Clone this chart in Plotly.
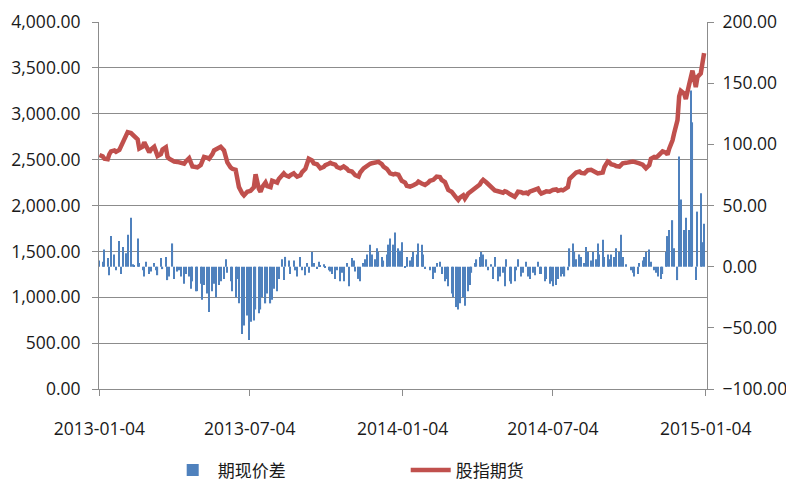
import pandas as pd
import plotly.graph_objects as go

# Sample dates: every second business day from 2013-01-04 to 2015-01-05
dates = pd.bdate_range("2013-01-04", "2015-01-05", freq="2B")

# 股指期货 (left axis)
futures = [
    2550, 2535, 2510, 2505, 2560, 2590, 2600, 2585, 2605, 2640,
    2700, 2760, 2800, 2790, 2770, 2760, 2720, 2620, 2640, 2690,
    2660, 2580, 2610, 2640, 2590, 2540, 2560, 2610, 2635, 2530,
    2510, 2490, 2480, 2475, 2470, 2465, 2455, 2480, 2515, 2470,
    2425, 2420, 2415, 2440, 2490, 2530, 2520, 2510, 2560, 2600,
    2610, 2625, 2640, 2600, 2540, 2470, 2415, 2400, 2390, 2310,
    2200, 2130, 2110, 2150, 2160, 2160, 2200, 2340, 2180, 2150,
    2200, 2250, 2210, 2200, 2270, 2260, 2250, 2290, 2330, 2350,
    2330, 2315, 2330, 2350, 2330, 2315, 2330, 2365, 2400, 2470,
    2510, 2490, 2460, 2450, 2430, 2405, 2420, 2440, 2455, 2465,
    2455, 2445, 2420, 2405, 2415, 2425, 2400, 2380, 2370, 2350,
    2330, 2315, 2360, 2405, 2420, 2440, 2455, 2460, 2470, 2480,
    2475, 2450, 2425, 2400, 2370, 2350, 2340, 2345, 2335, 2300,
    2270, 2250, 2215, 2205, 2210, 2220, 2240, 2260, 2240, 2230,
    2225, 2250, 2270, 2280, 2300, 2315, 2310, 2280, 2255, 2220,
    2170, 2150, 2120, 2080, 2060, 2085, 2110, 2075, 2130, 2145,
    2150, 2175, 2205, 2230, 2260, 2280, 2250, 2230, 2205, 2180,
    2165, 2155, 2150, 2140, 2155, 2150, 2125, 2110, 2095, 2120,
    2150, 2145, 2135, 2140, 2130, 2150, 2160, 2175, 2185, 2150,
    2130, 2145, 2155, 2150, 2160, 2170, 2175, 2160, 2170, 2165,
    2175, 2200, 2290, 2330, 2345, 2360, 2370, 2355, 2350, 2375,
    2385, 2390, 2375, 2360, 2350, 2355, 2360, 2420, 2480, 2470,
    2450, 2440, 2430, 2425, 2445, 2460, 2465, 2470, 2475, 2480,
    2475, 2470, 2460, 2445, 2425, 2405, 2440, 2510, 2530, 2525,
    2535, 2570, 2590, 2575, 2555, 2620, 2710, 2790, 2930, 3190,
    3250, 3220, 3160, 3320, 3420, 3470, 3290, 3400, 3440, 3560,
    3660,
]

# 期现价差 (right axis)
basis = [
    5, 4, 14, 7, -7, 25, 10, -3, 21, -6,
    16, 11, 26, 40, 2, 1, 23, 3, -3, -8,
    4, -6, -4, 3, -3, -7, 7, -2, 8, -11,
    -8, 19, -10, -4, -3, -8, -14, -6, -8, -18,
    -12, -20, -20, -14, -27, -15, -22, -37, -20, -14,
    -25, -15, -12, -10, 6, -5, -12, -20, -25, -10,
    -30, -55, -48, -40, -60, -45, -44, -35, -38, -35,
    -25, -30, -22, -30, -27, -18, -20, -10, 6, -11,
    8, 5, -6, 5, -3, -8, 8, -3, -7, 3,
    -5, 12, 3, -2, 4, 1, 2, -1, -3, -4,
    -6, -10, -3, -12, -5, -12, 3, -16, 7, 5,
    -4, -10, -12, 3, 6, 10, 18, 10, 6, 15,
    12, 8, 5, 10, 18, 23, 18, 28, 15, 13,
    20, -1, 8, 5, 8, 12, 10, 19, 18, 10,
    -2, 0, -3, -10, -5, 3, 4, -6, -12, -10,
    -16, -22, -25, -33, -35, -30, -25, -32, -20, -15,
    -5, 3, 6, 8, 12, 10, 6, -3, 2, -10,
    8, -12, -8, -5, -16, 6, -12, -14, -12, -3,
    6, -8, -5, 4, -8, -10, -5, -7, 4, -6,
    -6, -12, -10, -14, -12, -16, -15, -10, -8, -6,
    -8, -3, 15, 19, 12, 6, 10, 8, 3, 16,
    12, 5, 12, 6, 19, 10, 22, 8, 10, 6,
    10, 8, 15, 12, 26, 8, 2, 0, -3, -5,
    -8, -6, 3, 5, 8, 12, 14, 4, -3, -5,
    -8, -10, -6, 12, 25, 30, 38, 15, -11, 90,
    55, 30, 40, 30, 144, 118, -11, 45, 60, 20,
    35,
]

x_tick_vals = ["2013-01-04", "2013-07-04", "2014-01-04", "2014-07-04", "2015-01-04"]

n = min(len(dates), len(futures), len(basis))
dates = dates[:n]

FONT = "Open Sans"
FS = 17.5
GRID = "#8C8C8C"
TXT = "#1a1a1a"

fig = go.Figure()
fig.add_trace(go.Scatter(
    x=dates, y=futures[:n], name="股指期货", mode="lines",
    line=dict(color="#C0504D", width=4.5), yaxis="y", legendrank=2,
))
fig.add_trace(go.Bar(
    x=dates, y=basis[:n], name="期现价差",
    marker=dict(color="#4F81BD", line=dict(width=0)), yaxis="y2", legendrank=1,
))

fig.update_layout(
    width=786, height=483,
    margin=dict(l=99, r=79, t=22, b=94, autoexpand=False),
    paper_bgcolor="white", plot_bgcolor="white",
    font=dict(family=FONT, size=FS, color=TXT),
    bargap=0.3,
    showlegend=True,
    legend=dict(
        orientation="h", x=0.113, y=-0.222, xanchor="left", yanchor="middle",
        font=dict(family="Noto Sans CJK SC", size=17, color=TXT),
        entrywidth=183, entrywidthmode="pixels", itemwidth=40,
        bgcolor="rgba(0,0,0,0)",
    ),
    xaxis=dict(
        type="date", range=["2013-01-03 12:00", "2015-01-05 12:00"],
        tickvals=x_tick_vals, ticktext=x_tick_vals,
        ticks="outside", ticklen=6, tickcolor=GRID,
        showline=True, linecolor=GRID, linewidth=1,
        showgrid=False, zeroline=False, automargin=False,
        ticklabelstandoff=18,
        tickfont=dict(family=FONT, size=FS, color=TXT),
    ),
    yaxis=dict(
        range=[0, 4000], dtick=500, tickformat=",.2f",
        ticks="outside", ticklen=6, tickcolor=GRID,
        showline=True, linecolor=GRID, linewidth=1,
        showgrid=True, gridcolor=GRID, gridwidth=1, zeroline=False,
        automargin=False, ticklabelstandoff=8,
        tickfont=dict(family=FONT, size=FS, color=TXT),
    ),
    yaxis2=dict(
        range=[-100, 200], dtick=50, tickformat=".2f",
        overlaying="y", side="right",
        ticks="outside", ticklen=6, tickcolor=GRID,
        showline=True, linecolor=GRID, linewidth=1,
        showgrid=False, zeroline=False,
        automargin=False, ticklabelstandoff=5,
        tickfont=dict(family=FONT, size=FS, color=TXT),
    ),
)

fig.write_html(
    "out.html",
    config={"displayModeBar": False},
    post_script="document.body.style.margin='0px';",
)
